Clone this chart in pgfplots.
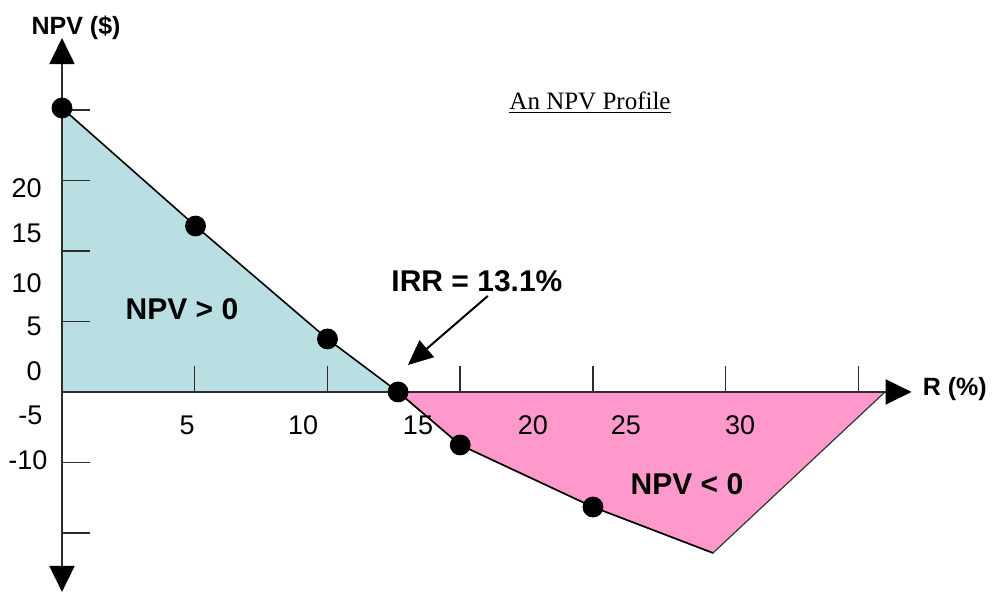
\documentclass[border=0pt]{standalone}
\usepackage{pgfplots}
\pgfplotsset{compat=1.18}
\usetikzlibrary{arrows.meta}
\usepackage{fontspec}
\setmainfont{Liberation Sans}
\newfontfamily\titlefont{Liberation Serif}
\definecolor{posfill}{RGB}{185,223,227}
\definecolor{negfill}{RGB}{255,153,204}
\definecolor{axisc}{RGB}{45,45,45}
\tikzset{
  tl/.style={font=\fontsize{13.5}{16}\selectfont, inner sep=0pt},
  big/.style={font=\fontsize{15}{18}\selectfont\bfseries, inner sep=0pt},
}

\begin{document}
\begin{tikzpicture}
\begin{axis}[
    set layers,
    x=13.275pt, y=7.05pt,
    xmin=0, xmax=32,
    ymin=-14.18, ymax=25.1,
    enlargelimits=false,
    axis lines=middle,
    xtick=\empty, ytick=\empty,
    x axis line style={axisc, line width=1pt, -{Triangle[length=13pt,width=12.5pt,black]}},
    y axis line style={axisc, line width=1pt, {Triangle[length=13pt,width=12.5pt,black]}-{Triangle[length=13pt,width=12.5pt,black]}},
    clip=false,
]

%% invisible frame = full picture size
\path (axis cs:-2.335,27.80) rectangle (axis cs:35.03,-14.18);

%% shaded areas
\addplot[on layer=axis background, fill=posfill, draw=none] coordinates {
  (0,20.14) (5.03,11.77) (10.0,3.76) (12.66,0)
} \closedcycle;
\addplot[on layer=axis background, fill=negfill, draw=black!80, line width=0.6pt] coordinates {
  (12.66,0) (15.0,-3.76) (20.0,-8.16) (24.52,-11.42) (31.0,0)
} \closedcycle;

%% NPV profile line
\addplot[black, line width=0.8pt, mark=none] coordinates {
  (0,20.14) (5.03,11.77) (10.0,3.76) (12.66,0) (15.0,-3.76) (20.0,-8.16) (24.52,-11.42)
};
\addplot[only marks, mark=*, mark size=5pt, black] coordinates {
  (0,20.14) (5.03,11.77) (10.0,3.76) (12.66,0) (15.0,-3.76) (20.0,-8.16)
};

%% ticks
\pgfplotsinvokeforeach{20,15,10,5,-5,-10}{
  \draw[axisc, line width=0.75pt] (axis cs:0,#1) -- (axis cs:1.055,#1);
}
\pgfplotsinvokeforeach{5,10,15,20,25,30}{
  \draw[axisc, line width=0.75pt] (axis cs:#1,0) -- (axis cs:#1,1.844);
}

%% tick labels (offset as in the original)
\node[tl, anchor=east] at (axis cs:-0.753,14.47) {20};
\node[tl, anchor=east] at (axis cs:-0.753,11.28) {15};
\node[tl, anchor=east] at (axis cs:-0.753,7.73) {10};
\node[tl, anchor=east] at (axis cs:-0.753,4.68) {5};
\node[tl, anchor=east] at (axis cs:-0.753,1.49) {0};
\node[tl, anchor=east] at (axis cs:-0.72,-1.63) {-5};
\node[tl, anchor=east] at (axis cs:-0.53,-4.82) {-10};
\node[tl] at (axis cs:4.71,-2.34) {5};
\node[tl] at (axis cs:9.08,-2.34) {10};
\node[tl] at (axis cs:13.41,-2.34) {15};
\node[tl] at (axis cs:17.74,-2.34) {20};
\node[tl] at (axis cs:21.24,-2.34) {25};
\node[tl] at (axis cs:25.54,-2.34) {30};

%% axis titles and annotations
\node[font=\fontsize{12.5}{14}\selectfont\bfseries, inner sep=0pt] at (axis cs:0.53,25.8) {NPV (\$)};
\node[font=\fontsize{12.5}{15}\selectfont\bfseries, inner sep=0pt] at (axis cs:33.63,0.2) {R (\%)};
\node[big] at (axis cs:4.52,5.9) {NPV > 0};
\node[big] at (axis cs:23.54,-6.52) {NPV < 0};
\node[big] at (axis cs:15.63,7.87) {IRR = 13.1\%};
\draw[black, line width=1pt, -{Triangle[length=12.5pt,width=11pt]}]
  (axis cs:16.04,6.81) -- (axis cs:13.03,1.91);
\node[font=\titlefont\fontsize{12.5}{15}\selectfont] at (axis cs:19.89,20.5) {\underline{An NPV Profile}};

\end{axis}
\end{tikzpicture}
\end{document}
